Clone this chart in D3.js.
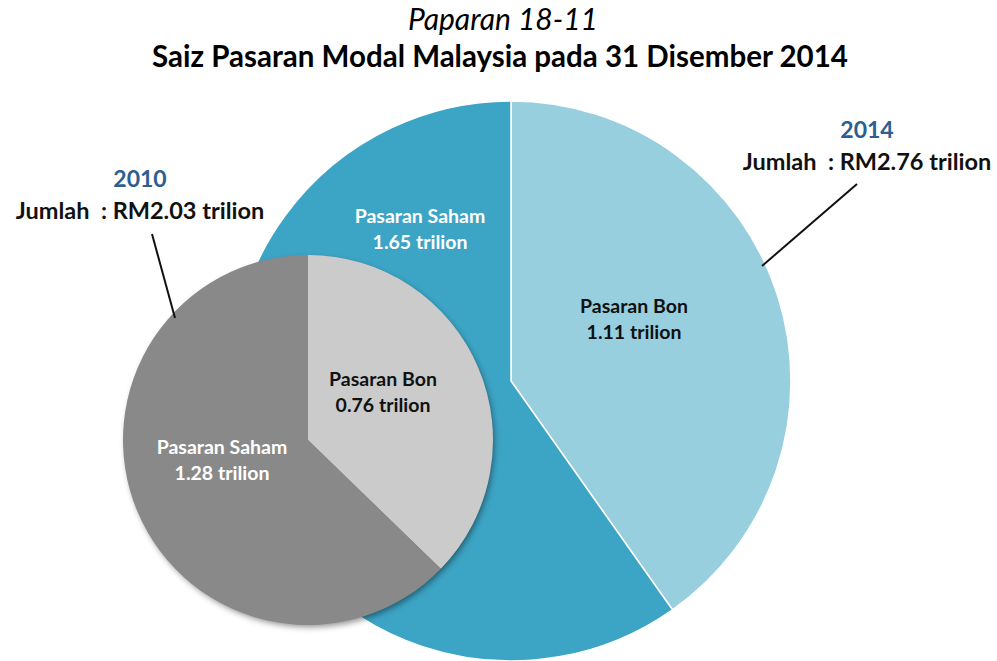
<!DOCTYPE html>
<html>
<head>
<meta charset="utf-8">
<script src="https://cdn.jsdelivr.net/npm/d3@7"></script>
<style>
  body { margin: 0; background: #fff; }
  svg text { font-family: Lato, "Open Sans", sans-serif; white-space: pre; }
</style>
</head>
<body>
<div id="chart"></div>
<script>
// data
var years = ["2010", "2014"];
var totals = ["RM2.03 trilion", "RM2.76 trilion"];
var segments = ["Pasaran Bon", "Pasaran Saham"];
var values2010 = [0.76, 1.28];
var values2014 = [1.11, 1.65];

var width = 997, height = 661;

var svg = d3.select("#chart")
  .append("svg")
    .attr("width", width)
    .attr("height", height);

var defs = svg.append("defs");
var shadow = defs.append("filter").attr("id", "shadow")
  .attr("x", "-20%").attr("y", "-20%").attr("width", "140%").attr("height", "140%");
shadow.append("feDropShadow")
  .attr("dx", 2).attr("dy", 3).attr("stdDeviation", 3)
  .attr("flood-color", "#000").attr("flood-opacity", 0.45);

// titles
svg.append("text")
  .attr("x", 503).attr("y", 30)
  .attr("text-anchor", "middle")
  .style("font-size", "30px").style("font-style", "italic")
  .text("Paparan 18-11");
svg.append("text")
  .attr("x", 500).attr("y", 67)
  .attr("text-anchor", "middle")
  .style("font-size", "29.5px").style("font-weight", "bold")
  .text("Saiz Pasaran Modal Malaysia pada 31 Disember 2014");

var pie = d3.pie().sort(null).value(function(d) { return d; });

// big pie (2014)
var big = svg.append("g").attr("transform", "translate(511,381)");
var arcBig = d3.arc().innerRadius(0).outerRadius(280);
var colBig = ["#97cfdf", "#3ca4c5"];
big.selectAll("path")
  .data(pie(values2014))
  .enter().append("path")
    .attr("d", arcBig)
    .attr("fill", function(d, i) { return colBig[i]; })
    .attr("stroke", "#fff")
    .attr("stroke-width", 1.5);

// small pie (2010)
var small = svg.append("g").attr("transform", "translate(308,440)");
var arcSmall = d3.arc().innerRadius(0).outerRadius(185);
var colSmall = ["#cbcbcb", "#898989"];
small.append("circle").attr("r", 184).attr("fill", "#898989").attr("filter", "url(#shadow)");
small.selectAll("path")
  .data(pie(values2010))
  .enter().append("path")
    .attr("d", arcSmall)
    .attr("fill", function(d, i) { return colSmall[i]; });

// slice labels
function sliceLabel(x, y, name, val, color) {
  var t = svg.append("text")
    .attr("text-anchor", "middle")
    .style("font-size", "19.5px").style("font-weight", "bold")
    .attr("fill", color);
  t.append("tspan").attr("x", x).attr("y", y).text(name);
  t.append("tspan").attr("x", x).attr("y", y + 26).text(val + " trilion");
}
sliceLabel(420, 223, segments[1], values2014[1].toFixed(2), "#fff");
sliceLabel(634, 313, segments[0], values2014[0].toFixed(2), "#111");
sliceLabel(383, 386, segments[0], values2010[0].toFixed(2), "#111");
sliceLabel(222, 454, segments[1], values2010[1].toFixed(2), "#fff");

// year callouts
function callout(cx, ty, year, total, line) {
  svg.append("text")
    .attr("x", cx).attr("y", ty)
    .attr("text-anchor", "middle")
    .attr("fill", "#2e5d8f")
    .style("font-size", "23px").style("font-weight", "bold")
    .text(year);
  svg.append("text")
    .attr("x", cx).attr("y", ty + 32)
    .attr("text-anchor", "middle")
    .attr("fill", "#111")
    .style("font-size", "23.5px").style("font-weight", "bold")
    .text("Jumlah  : " + total);
  svg.append("line")
    .attr("x1", line[0]).attr("y1", line[1])
    .attr("x2", line[2]).attr("y2", line[3])
    .attr("stroke", "#111").attr("stroke-width", 2);
}
callout(140, 187, years[0], totals[0], [152, 234, 175, 318]);
callout(867, 138, years[1], totals[1], [857, 184, 762, 266]);
</script>
</body>
</html>
